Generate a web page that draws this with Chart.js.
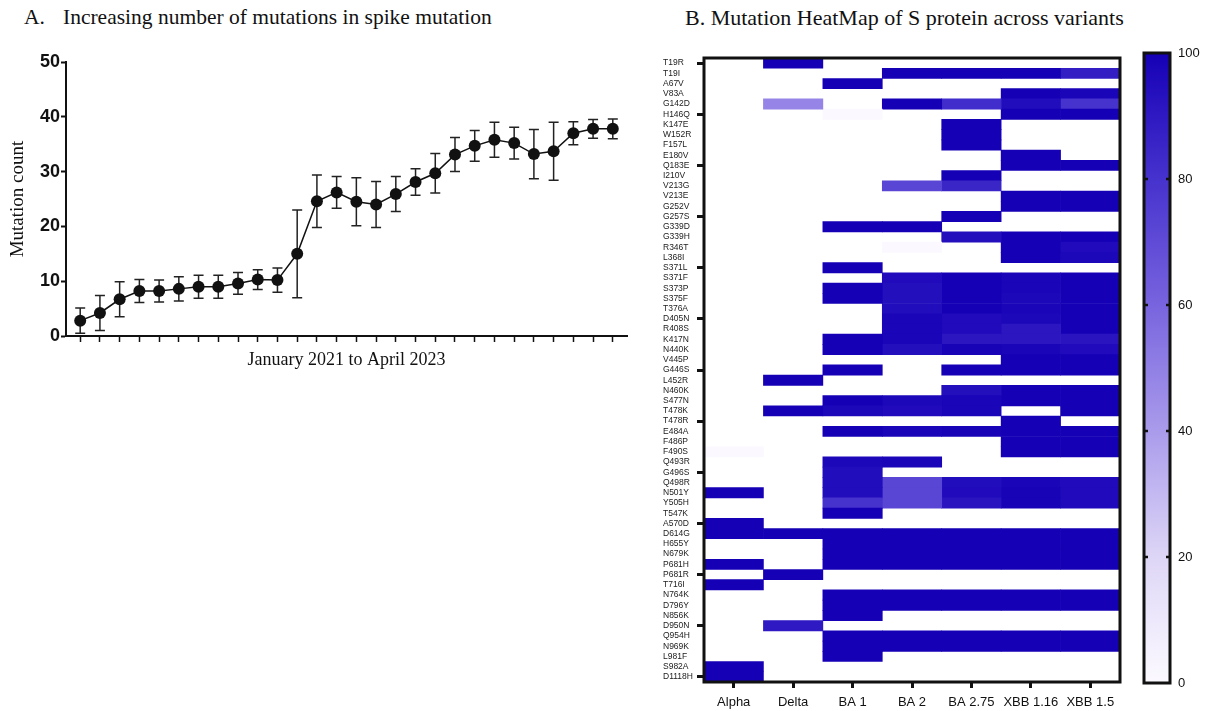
<!DOCTYPE html>
<html lang="en">
<head>
<meta charset="UTF-8">
<title>Spike mutations</title>
<script src="https://cdn.jsdelivr.net/npm/chart.js@4.4.0/dist/chart.umd.min.js"></script>
<style>
  body { margin: 0; background: #fff; width: 1207px; height: 711px; position: relative; overflow: hidden; }
  .title { position: absolute; top: 7px; font-family: 'Liberation Serif', serif; font-size: 21.5px; line-height: 21px; color: #111; white-space: nowrap; }
  canvas { position: absolute; top: 0; }
</style>
</head>
<body>
<div class="title" style="left:24px;"><span style="display:inline-block;width:39px;">A.</span>Increasing number of mutations in spike mutation</div>
<div class="title" style="left:685px;font-size:22px;">B. Mutation HeatMap of S protein across variants</div>

<canvas id="linechart" width="640" height="380" style="left:0px;"></canvas>
<canvas id="heatmap" width="500" height="711" style="left:640px;"></canvas>
<canvas id="colorbar" width="72" height="711" style="left:1135px;"></canvas>

<script>
// panel A: mean mutation count per month, Jan 2021 - Apr 2023
const counts = [2.8, 4.2, 6.7, 8.2, 8.2, 8.6, 9.0, 9.0, 9.6, 10.3, 10.2, 15.0, 24.6, 26.2,
                24.5, 24.0, 25.9, 28.1, 29.7, 33.1, 34.7, 35.8, 35.2, 33.2, 33.7, 37.0, 37.8, 37.8];
const errs = [2.3, 3.2, 3.2, 2.1, 2.0, 2.2, 2.1, 2.1, 2.0, 1.8, 2.2, 8.0, 4.8, 2.9,
              4.4, 4.2, 3.2, 2.4, 3.6, 3.1, 2.8, 3.2, 2.9, 4.5, 5.3, 2.1, 1.7, 1.8];

// panel B: heatmap
const variants = ['Alpha', 'Delta', 'BA 1', 'BA 2', 'BA 2.75', 'XBB 1.16', 'XBB 1.5'];
const mutations = ['T19R','T19I','A67V','V83A','G142D','H146Q','K147E','W152R','F157L','E180V',
  'Q183E','I210V','V213G','V213E','G252V','G257S','G339D','G339H','R346T','L368I',
  'S371L','S371F','S373P','S375F','T376A','D405N','R408S','K417N','N440K','V445P',
  'G446S','L452R','N460K','S477N','T478K','T478R','E484A','F486P','F490S','Q493R',
  'G496S','Q498R','N501Y','Y505H','T547K','A570D','D614G','H655Y','N679K','P681H',
  'P681R','T716I','N764K','D796Y','N856K','D950N','Q954H','N969K','L981F','S982A','D1118H'];

const alpha = [0,0,0,0,0,0,0,0,0,0, 0,0,0,0,0,0,0,0,0,0, 0,0,0,0,0,0,0,0,0,0,
  0,0,0,0,0,0,0,0,1,0, 0,0,100,0,0,100,100,0,0,100, 0,100,0,0,0,0,0,0,0,100,100];
const delta = [100,0,0,0,48,0,0,0,0,0, 0,0,0,0,0,0,0,0,0,0, 0,0,0,0,0,0,0,0,0,0,
  0,100,0,0,100,0,0,0,0,0, 0,0,0,0,0,0,100,0,0,0, 100,0,0,0,0,90,0,0,0,0,0];
const ba1 = [0,0,100,0,0,1,0,0,0,0, 0,0,0,0,0,0,100,0,0,0, 100,0,100,100,0,0,0,100,100,0,
  100,0,0,100,97,0,100,0,0,97, 95,95,95,80,100,0,100,100,100,100, 0,0,100,100,100,0,100,100,100,0,0];
const ba2 = [0,100,0,0,100,0,0,0,0,0, 0,0,72,0,0,0,100,0,1,0, 0,96,94,94,95,98,98,98,94,0,
  0,0,0,97,96,0,98,0,0,98, 0,72,72,72,0,0,100,100,100,100, 0,0,100,100,0,0,100,100,0,0,0];
const ba275 = [0,100,0,0,82,0,100,100,100,0, 0,100,85,0,0,100,0,94,0,0, 0,100,100,100,100,96,96,91,99,0,
  100,0,94,98,98,0,99,0,0,0, 0,95,96,92,0,0,100,100,100,100, 0,0,100,100,0,0,100,100,0,0,0];
const xbb116 = [0,100,0,100,95,100,0,0,0,100, 100,0,0,100,100,0,0,100,100,100, 0,98,98,97,98,97,91,91,98,100,
  100,0,100,100,0,100,100,100,100,0, 0,98,99,99,0,0,100,100,100,100, 0,0,100,100,0,0,100,100,0,0,0];
const xbb15 = [0,88,0,98,80,100,0,0,0,0, 100,0,0,100,100,0,0,100,96,97, 0,100,100,100,100,100,100,92,96,100,
  100,0,100,100,100,0,100,100,100,0, 0,96,96,96,0,0,100,100,100,100, 0,0,100,100,0,0,100,100,0,0,0];
const heatValues = [alpha, delta, ba1, ba2, ba275, xbb116, xbb15];

const colorTicks = [0, 20, 40, 60, 80, 100];

// white -> deep blue colour map
const cmap = [[0,[252,250,255]],[20,[222,214,246]],[40,[170,155,235]],[60,[120,100,222]],[80,[70,50,205]],[100,[22,0,182]]];
function mapColor(v) {
    for (let i = 1; i < cmap.length; i++) {
        if (v <= cmap[i][0]) {
            const [v0, c0] = cmap[i - 1], [v1, c1] = cmap[i];
            const t = (v - v0) / (v1 - v0);
            const c = c0.map((x, k) => Math.round(x + (c1[k] - x) * t));
            return 'rgb(' + c.join(',') + ')';
        }
    }
    return 'rgb(22,0,182)';
}
function heatColor(v) { return v ? mapColor(v) : 'rgba(0,0,0,0)'; }

Chart.defaults.animation = false;
Chart.defaults.plugins.legend.display = false;
Chart.defaults.plugins.tooltip.enabled = false;

// error bars drawn under the points
const errorBars = {
    id: 'errorBars',
    beforeDatasetsDraw(chart) {
        const {ctx, scales: {x, y}} = chart;
        ctx.save();
        ctx.strokeStyle = '#222';
        ctx.lineWidth = 1.5;
        counts.forEach((v, i) => {
            const px = x.getPixelForValue(i + 1);
            const top = y.getPixelForValue(v + errs[i]);
            const bot = y.getPixelForValue(v - errs[i]);
            ctx.beginPath();
            ctx.moveTo(px, top); ctx.lineTo(px, bot);
            ctx.moveTo(px - 5, top); ctx.lineTo(px + 5, top);
            ctx.moveTo(px - 5, bot); ctx.lineTo(px + 5, bot);
            ctx.stroke();
        });
        ctx.restore();
    }
};

new Chart(document.getElementById('linechart'), {
    type: 'line',
    data: {
        datasets: [{
            data: counts.map((v, i) => ({x: i + 1, y: v})),
            borderColor: '#111',
            borderWidth: 1.5,
            pointRadius: 6,
            pointBackgroundColor: '#111',
            pointBorderWidth: 0,
            tension: 0
        }]
    },
    options: {
        responsive: false,
        devicePixelRatio: 1,
        layout: { padding: { left: 3, top: 62, right: 13, bottom: 5 } },
        scales: {
            x: {
                type: 'linear', min: 0.28, max: 28.72,
                afterBuildTicks: s => { s.ticks = counts.map((_, i) => ({value: i + 1})); },
                ticks: { display: false },
                grid: { drawOnChartArea: false, tickLength: 6, tickWidth: 1.5, tickColor: '#111' },
                border: { color: '#111', width: 2 },
                title: { display: true, text: 'January 2021 to April 2023', color: '#111',
                         font: { family: 'Liberation Serif', size: 18 }, padding: { top: 0, bottom: 4 } },
                afterFit: s => { s.height = 39; }
            },
            y: {
                min: 0, max: 50,
                ticks: { stepSize: 10, padding: 1, color: '#111',
                         font: { family: 'Liberation Sans', size: 18, weight: 'bold' } },
                grid: { drawOnChartArea: false, tickLength: 5, tickWidth: 2, tickColor: '#111' },
                border: { color: '#111', width: 2 },
                title: { display: true, text: 'Mutation count', color: '#111',
                         font: { family: 'Liberation Serif', size: 19 }, padding: { top: 4, bottom: 0 } },
                afterFit: s => { s.width = 63; }
            }
        }
    },
    plugins: [errorBars]
});

// black frame round the plot area
const frame = {
    id: 'frame',
    afterDraw(chart) {
        const {ctx, chartArea: a} = chart;
        ctx.save();
        ctx.strokeStyle = '#111';
        ctx.lineWidth = 3;
        ctx.strokeRect(a.left, a.top, a.right - a.left, a.bottom - a.top);
        ctx.restore();
    }
};

new Chart(document.getElementById('heatmap'), {
    type: 'bar',
    data: {
        labels: mutations,
        datasets: variants.map((name, c) => ({
            label: name,
            data: mutations.map(() => [c, c + 1]),
            backgroundColor: heatValues[c].map(heatColor),
            borderWidth: 0,
            grouped: false,
            barPercentage: 1,
            categoryPercentage: 1
        }))
    },
    options: {
        indexAxis: 'y',
        responsive: false,
        devicePixelRatio: 1,
        layout: { padding: { left: 23, top: 58, right: 20, bottom: 0 } },
        scales: {
            x: {
                type: 'linear', min: 0, max: 7,
                afterBuildTicks: s => { s.ticks = variants.map((_, i) => ({value: i + 0.5})); },
                ticks: { callback: (v, i) => variants[i], autoSkip: false, maxRotation: 0, padding: 7,
                         color: '#111', font: { family: 'Liberation Sans', size: 13 } },
                grid: { drawOnChartArea: false, tickLength: 6, tickWidth: 3, tickColor: '#111' },
                border: { display: false },
                afterFit: s => { s.height = 29; }
            },
            y: {
                type: 'category', offset: true,
                ticks: { autoSkip: false, crossAlign: 'far', color: '#222',
                         font: { family: 'Liberation Sans', size: 8.5 } },
                grid: { offset: false, drawOnChartArea: false, tickLength: 7, tickWidth: 3,
                        tickColor: c => c.index % 5 === 0 ? '#111' : 'rgba(0,0,0,0)' },
                border: { display: false },
                afterFit: s => { s.width = 41; }
            }
        }
    },
    plugins: [frame]
});

// colour bar
const barFrame = {
    id: 'barFrame',
    afterDraw(chart) {
        const {ctx, chartArea: a, scales: {y}} = chart;
        ctx.save();
        ctx.strokeStyle = '#111';
        ctx.lineWidth = 3;
        ctx.strokeRect(a.left, a.top, a.right - a.left, a.bottom - a.top);
        ctx.lineWidth = 2.5;
        colorTicks.slice(1, -1).forEach(v => {
            const py = y.getPixelForValue(v);
            ctx.beginPath();
            ctx.moveTo(a.left, py); ctx.lineTo(a.left + 4, py);
            ctx.moveTo(a.right - 4, py); ctx.lineTo(a.right, py);
            ctx.stroke();
        });
        ctx.restore();
    }
};

new Chart(document.getElementById('colorbar'), {
    type: 'bar',
    data: {
        labels: ['scale'],
        datasets: [{
            data: [[colorTicks[0], colorTicks[colorTicks.length - 1]]],
            backgroundColor: c => {
                const a = c.chart.chartArea;
                if (!a) return null;
                const g = c.chart.ctx.createLinearGradient(0, a.bottom, 0, a.top);
                for (let v = 0; v <= 100; v += 10) g.addColorStop(v / 100, mapColor(v));
                return g;
            },
            borderWidth: 0,
            barPercentage: 1,
            categoryPercentage: 1
        }]
    },
    options: {
        responsive: false,
        devicePixelRatio: 1,
        layout: { padding: { left: 9, top: 53, right: 0, bottom: 28 } },
        scales: {
            x: { display: false },
            y: {
                position: 'right', min: 0, max: 100,
                afterBuildTicks: s => { s.ticks = colorTicks.map(v => ({value: v})); },
                ticks: { padding: 8, color: '#111', font: { family: 'Liberation Sans', size: 13 } },
                grid: { drawOnChartArea: false, drawTicks: false },
                border: { display: false },
                afterFit: s => { s.width = 37; }
            }
        }
    },
    plugins: [barFrame]
});
</script>
</body>
</html>
